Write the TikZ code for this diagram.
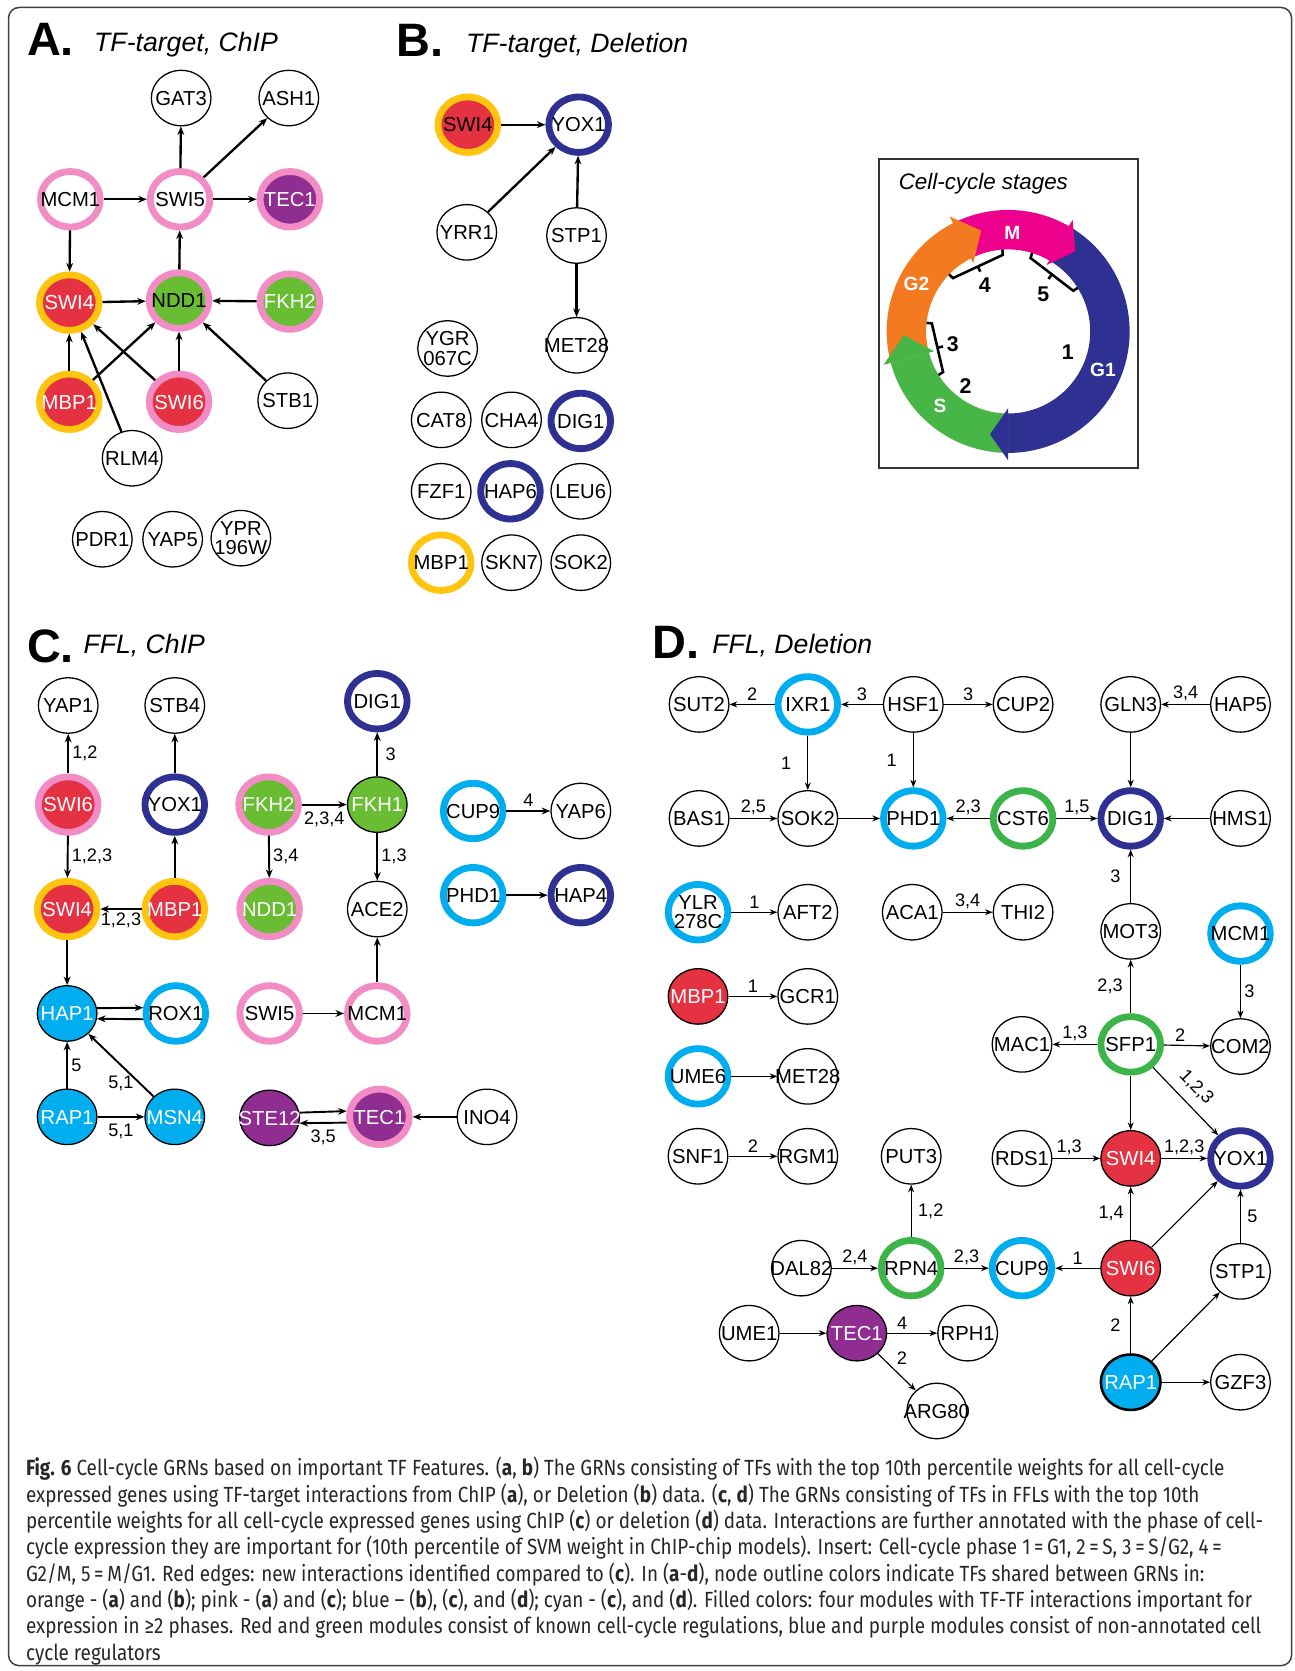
\documentclass[tikz,border=0pt]{standalone}
\usepackage{fontspec}
\setmainfont{Liberation Sans}
\newfontfamily\capfont[FakeStretch=0.86]{Fira Sans}
\usetikzlibrary{shapes.geometric,arrows.meta,calc}

\definecolor{tfred}{RGB}{228,50,66}
\definecolor{tfgreen}{RGB}{104,189,50}
\definecolor{tfpurple}{RGB}{143,45,145}
\definecolor{tfcyan}{RGB}{0,174,239}
\definecolor{tfblue}{RGB}{46,49,146}
\definecolor{tforange}{RGB}{255,196,13}
\definecolor{tfpink}{RGB}{242,140,196}
\definecolor{ringgreen}{RGB}{60,180,73}
\definecolor{cym}{RGB}{236,0,140}
\definecolor{cyg1}{RGB}{46,49,146}
\definecolor{cys}{RGB}{72,182,70}
\definecolor{cyg2}{RGB}{243,122,32}

\tikzset{
  gene/.style={ellipse, minimum width=28pt, minimum height=26pt, inner sep=0pt,
    font=\fontsize{9.5}{10}\selectfont, text height=6.8pt, text depth=0pt,
    execute at begin node={\setbox0\hbox\bgroup},
    execute at end node={\egroup\hbox to 0pt{\hss\box0\hss}}},
  plain/.style={gene, draw, line width=0.6pt},
  ring/.style={gene, draw=#1, line width=3.2pt},
  filled/.style={gene, draw, line width=0.6pt, fill=#1, text=white},
  lbl/.style={font=\fontsize{8.5}{9}\selectfont, inner sep=1.5pt},
  panel/.style={anchor=base west, inner sep=0pt, font=\fontsize{22}{22}\selectfont\bfseries},
  title/.style={anchor=base west, inner sep=0pt, font=\fontsize{12.5}{14}\selectfont\itshape},
  tfarrow/.style={-{Stealth[length=4pt,width=3.2pt]}},
  thinarrow/.style={-{Stealth[length=3.6pt,width=2.8pt]}},
  stage/.style={font=\fontsize{9}{10}\selectfont\bfseries, text=white},
  phase/.style={font=\fontsize{10}{10}\selectfont\bfseries},
}
\newcommand\twoline[2]{\def\arraystretch{.85}\begin{tabular}{@{}c@{}}#1\\#2\end{tabular}}

\begin{document}
\begin{tikzpicture}[x=0.5pt, y=-0.5pt]
  \useasboundingbox (0,0) rectangle (1215,1568);
  \draw[rounded corners=5pt, line width=.7pt, black!75] (8,7) rectangle (1212,1563);

  % A
  \node[panel] (atag) at (25,52) {A.};
  \node[title] (atitle) at (88,48) {TF-target, ChIP};
  \node[plain] (agat3) at (170,92) {GAT3};
  \node[plain] (aash1) at (271,92) {ASH1};
  \node[ring=tfpink] (amcm1) at (66,187) {MCM1};
  \node[ring=tfpink] (aswi5) at (169,187) {SWI5};
  \node[ring=tfpink, fill=tfpurple, text=white] (atec1) at (272,187) {TEC1};
  \node[ring=tforange, fill=tfred, text=white] (aswi4) at (65,284) {SWI4};
  \node[ring=tfpink, fill=tfgreen] (andd1) at (168,282) {NDD1};
  \node[ring=tfpink, fill=tfgreen, text=white] (afkh2) at (272,283) {FKH2};
  \node[ring=tforange, fill=tfred, text=white] (ambp1) at (65,377) {MBP1};
  \node[ring=tfpink, fill=tfred, text=white] (aswi6) at (168,377) {SWI6};
  \node[plain] (astb1) at (270,376) {STB1};
  \node[plain] (arlm4) at (124,430) {RLM4};
  \node[plain] (apdr1) at (96,506) {PDR1};
  \node[plain] (ayap5) at (162,506) {YAP5};
  \node[plain] (aypr) at (226,505) {\twoline{YPR}{196W}};
  \begin{scope}[tfarrow, line width=1.1pt]
    \draw (aswi5) to (agat3);
    \draw (aswi5) to (aash1);
    \draw (amcm1) to (aswi5);
    \draw (aswi5) to (atec1);
    \draw (amcm1) to (aswi4);
    \draw (andd1) to (aswi5);
    \draw (aswi4) to (andd1);
    \draw (afkh2) to (andd1);
    \draw (ambp1) to (aswi4);
    \draw (ambp1) to (andd1);
    \draw (aswi6) to (aswi4);
    \draw (aswi6) to (andd1);
    \draw (arlm4) to (aswi4);
    \draw (astb1) to (andd1);
  \end{scope}

  % B
  \node[panel] (btag) at (372,53) {B.};
  \node[title] (btitle) at (437,49) {TF-target, Deletion};
  \node[ring=tforange, fill=tfred] (bswi4) at (439,117) {SWI4};
  \node[ring=tfblue] (byox1) at (543,117) {YOX1};
  \node[plain] (byrr1) at (438,218) {YRR1};
  \node[plain] (bstp1) at (541,221) {STP1};
  \node[plain] (bmet28) at (541,324) {MET28};
  \node[plain] (bygr) at (420,327) {\twoline{YGR}{067C}};
  \node[plain] (bcat8) at (414,394) {CAT8};
  \node[plain] (bcha4) at (480,394) {CHA4};
  \node[ring=tfblue] (bdig1) at (545,395) {DIG1};
  \node[plain] (bfzf1) at (414,461) {FZF1};
  \node[ring=tfblue] (bhap6) at (479,461) {HAP6};
  \node[plain] (bleu6) at (545,461) {LEU6};
  \node[ring=tforange] (bmbp1) at (414,528) {MBP1};
  \node[plain] (bskn7) at (480,528) {SKN7};
  \node[plain] (bsok2) at (545,528) {SOK2};
  \begin{scope}[tfarrow, line width=1.1pt]
    \draw (bswi4) to (byox1);
    \draw (byrr1) to (byox1);
    \draw (bstp1) to (byox1);
    \draw (bstp1) to (bmet28);
  \end{scope}

  % cell-cycle stages
  \draw[line width=.8pt, black!80] (825,149) rectangle (1068,439);
  \node[anchor=base west, inner sep=0pt, font=\fontsize{10.5}{12}\selectfont\itshape] (stitle) at (843,178) {Cell-cycle stages};
  \begin{scope}[shift={(946,311)}]
    \foreach \c/\s/\e in {cyg1/-60/90, cys/90/165, cyg2/165/243, cym/243/300}
      \fill[\c] (\s:114) arc[start angle=\s, end angle=\e, radius=114]
        -- (\e:77) arc[start angle=\e, end angle=\s, radius=77] -- cycle;
    \foreach \c/\e/\t in {cyg1/90/100, cys/165/178, cyg2/243/255, cym/300/310}
      \fill[\c] (\e:121) -- (\t:98) -- (\e:72) -- cycle;
    \foreach \a/\b in {148/186, 224/266, 287/328} {
      \draw[line width=1.2pt] (\a:77) -- (\a:72) -- (\b:72) -- (\b:77);
      \draw[line width=1.2pt] ($(\a:72)!.5!(\b:72)$) -- ($(\a:72)!.5!(\b:72)!.08!(0,0)$);
    }
  \end{scope}
  \node[stage] (sm) at (950,219) {M};
  \node[stage] (sg1) at (1035,347) {G1};
  \node[stage] (ss) at (882,381) {S};
  \node[stage] (sg2) at (860,266) {G2};
  \node[phase] (p1) at (1002,330) {1};
  \node[phase] (p2) at (906,362) {2};
  \node[phase] (p3) at (894,323) {3};
  \node[phase] (p4) at (924,268) {4};
  \node[phase] (p5) at (979,276) {5};

  % C
  \node[panel] (ctag) at (25,622) {C.};
  \node[title] (ctitle) at (78,613) {FFL, ChIP};
  \node[plain] (cyap1) at (64,662) {YAP1};
  \node[plain] (cstb4) at (164,662) {STB4};
  \node[ring=tfblue] (cdig1) at (354,658) {DIG1};
  \node[ring=tfpink, fill=tfred, text=white] (cswi6) at (64,755) {SWI6};
  \node[ring=tfblue] (cyox1) at (164,755) {YOX1};
  \node[ring=tfpink, fill=tfgreen, text=white] (cfkh2) at (252,755) {FKH2};
  \node[filled=tfgreen] (cfkh1) at (354,755) {FKH1};
  \node[ring=tfcyan] (ccup9) at (444,761) {CUP9};
  \node[plain] (cyap6) at (545,761) {YAP6};
  \node[ring=tforange, fill=tfred, text=white] (cswi4) at (63,853) {SWI4};
  \node[ring=tforange, fill=tfred, text=white] (cmbp1) at (164,853) {MBP1};
  \node[ring=tfpink, fill=tfgreen, text=white] (cndd1) at (253,853) {NDD1};
  \node[plain] (cace2) at (354,853) {ACE2};
  \node[ring=tfcyan] (cphd1) at (444,840) {PHD1};
  \node[ring=tfblue] (chap4) at (545,840) {HAP4};
  \node[filled=tfcyan] (chap1) at (63,951) {HAP1};
  \node[ring=tfcyan] (crox1) at (165,951) {ROX1};
  \node[ring=tfpink] (cswi5) at (253,951) {SWI5};
  \node[ring=tfpink] (cmcm1) at (354,951) {MCM1};
  \node[filled=tfcyan] (crap1) at (63,1048) {RAP1};
  \node[filled=tfcyan] (cmsn4) at (164,1048) {MSN4};
  \node[filled=tfpurple] (cste12) at (253,1049) {STE12};
  \node[ring=tfpink, fill=tfpurple, text=white] (ctec1) at (356,1048) {TEC1};
  \node[plain] (cino4) at (457,1048) {INO4};
  \begin{scope}[tfarrow, line width=0.9pt]
    \draw (cswi6) to node[lbl, right] {1,2} (cyap1);
    \draw (cyox1) to (cstb4);
    \draw (cfkh1) to node[lbl, right=2pt] {3} (cdig1);
    \draw (cswi6) to node[lbl, right] {1,2,3} (cswi4);
    \draw (cmbp1) to (cyox1);
    \draw (cfkh2) to node[lbl, below=1.5pt] {2,3,4} (cfkh1);
    \draw (cfkh2) to node[lbl, right] {3,4} (cndd1);
    \draw (cfkh1) to node[lbl, right] {1,3} (cace2);
    \draw (ccup9) to node[lbl, above] {4} (cyap6);
    \draw (cphd1) to (chap4);
    \draw (cmbp1) to node[lbl, below] {1,2,3} (cswi4);
    \draw (cswi4) to (chap1);
    \draw (chap1.10) to (crox1.170);
    \draw (crox1.-170) to (chap1.-10);
    \draw (cswi5) to (cmcm1);
    \draw (cmcm1) to (cace2);
    \draw (crap1) to node[lbl, right=0pt] {5} (chap1);
    \draw (cmsn4) to node[lbl, below=3pt] {5,1} (chap1);
    \draw (crap1) to node[lbl, below=1.5pt] {5,1} (cmsn4);
    \draw (cste12.10) to (ctec1.170);
    \draw (ctec1.-170) to node[lbl, below=1.5pt] {3,5} (cste12.-10);
    \draw (cino4) to (ctec1);
  \end{scope}

  % D
  \node[panel] (dtag) at (612,618) {D.};
  \node[title] (dtitle) at (668,613) {FFL, Deletion};
  \node[plain] (dsut2) at (656,661) {SUT2};
  \node[ring=tfcyan] (dixr1) at (758,661) {IXR1};
  \node[plain] (dhsf1) at (857,661) {HSF1};
  \node[plain] (dcup2) at (960,661) {CUP2};
  \node[plain] (dgln3) at (1061,661) {GLN3};
  \node[plain] (dhap5) at (1164,661) {HAP5};
  \node[plain] (dbas1) at (656,768) {BAS1};
  \node[plain] (dsok2) at (758,768) {SOK2};
  \node[ring=tfcyan] (dphd1) at (857,768) {PHD1};
  \node[ring=ringgreen] (dcst6) at (960,768) {CST6};
  \node[ring=tfblue] (ddig1) at (1061,768) {DIG1};
  \node[plain] (dhms1) at (1164,768) {HMS1};
  \node[ring=tfcyan] (dylr) at (655,856) {\twoline{YLR}{278C}};
  \node[plain] (daft2) at (758,856) {AFT2};
  \node[plain] (daca1) at (856,856) {ACA1};
  \node[plain] (dthi2) at (960,856) {THI2};
  \node[plain] (dmot3) at (1061,874) {MOT3};
  \node[ring=tfcyan] (dmcm1) at (1164,876) {MCM1};
  \node[filled=tfred] (dmbp1) at (655,935) {MBP1};
  \node[plain] (dgcr1) at (758,935) {GCR1};
  \node[plain] (dmac1) at (959,980) {MAC1};
  \node[ring=ringgreen] (dsfp1) at (1061,980) {SFP1};
  \node[plain] (dcom2) at (1164,982) {COM2};
  \node[ring=tfcyan] (dume6) at (655,1010) {UME6};
  \node[plain] (dmet28) at (758,1010) {MET28};
  \node[plain] (dsnf1) at (655,1085) {SNF1};
  \node[plain] (drgm1) at (758,1085) {RGM1};
  \node[plain] (dput3) at (855,1085) {PUT3};
  \node[plain] (drds1) at (959,1087) {RDS1};
  \node[filled=tfred] (dswi4) at (1061,1087) {SWI4};
  \node[ring=tfblue] (dyox1) at (1164,1087) {YOX1};
  \node[plain] (ddal82) at (752,1190) {DAL82};
  \node[ring=ringgreen] (drpn4) at (855,1190) {RPN4};
  \node[ring=tfcyan] (dcup9) at (959,1190) {CUP9};
  \node[filled=tfred] (dswi6) at (1061,1190) {SWI6};
  \node[plain] (dstp1) at (1164,1193) {STP1};
  \node[plain] (dume1) at (703,1251) {UME1};
  \node[filled=tfpurple] (dtec1) at (804,1251) {TEC1};
  \node[plain] (drph1) at (908,1251) {RPH1};
  \node[plain] (darg80) at (879,1324) {ARG80};
  \node[filled=tfcyan, line width=1.2pt] (drap1) at (1061,1297) {RAP1};
  \node[plain] (dgzf3) at (1164,1297) {GZF3};
  \begin{scope}[thinarrow, line width=0.55pt]
    \draw (dixr1) to node[lbl, above] {2} (dsut2);
    \draw (dhsf1) to node[lbl, above] {3} (dixr1);
    \draw (dhsf1) to node[lbl, above] {3} (dcup2);
    \draw (dhap5) to node[lbl, above] {3,4} (dgln3);
    \draw (dixr1) to node[lbl, left=6pt] {1} (dsok2);
    \draw (dhsf1) to node[lbl, left=6pt] {1} (dphd1);
    \draw (dgln3) to (ddig1);
    \draw (dbas1) to node[lbl, above] {2,5} (dsok2);
    \draw (dsok2) to (dphd1);
    \draw (dcst6) to node[lbl, above] {2,3} (dphd1);
    \draw (dcst6) to node[lbl, above] {1,5} (ddig1);
    \draw (dhms1) to (ddig1);
    \draw (dmot3) to node[lbl, left=3pt] {3} (ddig1);
    \draw (dylr) to node[lbl, above] {1} (daft2);
    \draw (daca1) to node[lbl, above] {3,4} (dthi2);
    \draw (dsfp1) to node[lbl, left=2pt] {2,3} (dmot3);
    \draw (dmcm1) to node[lbl, right] {3} (dcom2);
    \draw (dmbp1) to node[lbl, above] {1} (dgcr1);
    \draw (dsfp1) to node[lbl, above] {1,3} (dmac1);
    \draw (dsfp1) to node[lbl, above, pos=.35] {2} (dcom2);
    \draw (dsfp1) to (dswi4);
    \draw (dsfp1) to node[lbl, sloped, above=3pt, pos=.47] {1,2,3} (dyox1);
    \draw (dume6) to (dmet28);
    \draw (dsnf1) to node[lbl, above] {2} (drgm1);
    \draw (drds1) to node[lbl, above, pos=.35] {1,3} (dswi4);
    \draw (dswi4) to node[lbl, above] {1,2,3} (dyox1);
    \draw (drpn4) to node[lbl, right=1.5pt] {1,2} (dput3);
    \draw (dswi6) to node[lbl, left=1.5pt] {1,4} (dswi4);
    \draw (dswi6) to (dyox1);
    \draw (dstp1) to node[lbl, right=1.5pt] {5} (dyox1);
    \draw (ddal82) to node[lbl, above] {2,4} (drpn4);
    \draw (drpn4) to node[lbl, above] {2,3} (dcup9);
    \draw (dswi6) to node[lbl, above] {1} (dcup9);
    \draw (dume1) to (dtec1);
    \draw (dtec1) to node[lbl, above, pos=.3] {4} (drph1);
    \draw (dtec1) to node[lbl, above right, pos=.4] {2} (darg80);
    \draw (drap1) to node[lbl, left=3pt] {2} (dswi6);
    \draw (drap1) to (dstp1);
    \draw (drap1) to (dgzf3);
  \end{scope}

  % caption
  \node[anchor=north west, inner sep=0pt, align=left, text=black!85,
    font=\capfont\fontsize{10.3}{12.35}\selectfont] (caption) at (24,1367)
    {\textbf{Fig. 6} Cell-cycle GRNs based on important TF Features. (\textbf{a}, \textbf{b}) The GRNs consisting of TFs with the top 10th percentile weights for all cell-cycle\\
     expressed genes using TF-target interactions from ChIP (\textbf{a}), or Deletion (\textbf{b}) data. (\textbf{c}, \textbf{d}) The GRNs consisting of TFs in FFLs with the top 10th\\
     percentile weights for all cell-cycle expressed genes using ChIP (\textbf{c}) or deletion (\textbf{d}) data. Interactions are further annotated with the phase of cell-\\
     cycle expression they are important for (10th percentile of SVM weight in ChIP-chip models). Insert: Cell-cycle phase 1\,=\,G1, 2\,=\,S, 3\,=\,S/G2, 4\,=\\
     G2/M, 5\,=\,M/G1. Red edges: new interactions identified compared to (\textbf{c}). In (\textbf{a}-\textbf{d}), node outline colors indicate TFs shared between GRNs in:\\
     orange - (\textbf{a}) and (\textbf{b}); pink - (\textbf{a}) and (\textbf{c}); blue – (\textbf{b}), (\textbf{c}), and (\textbf{d}); cyan - (\textbf{c}), and (\textbf{d}). Filled colors: four modules with TF-TF interactions important for\\
     expression in ≥2 phases. Red and green modules consist of known cell-cycle regulations, blue and purple modules consist of non-annotated cell\\
     cycle regulators};
\end{tikzpicture}
\end{document}
